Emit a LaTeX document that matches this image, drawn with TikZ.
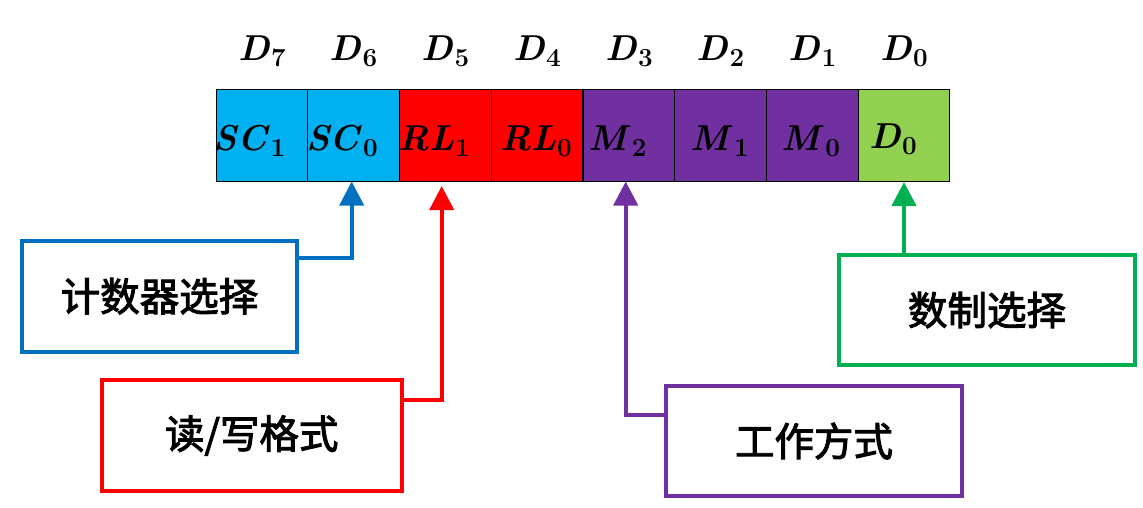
\documentclass[tikz,border=0pt]{standalone}
\usepackage{fontspec}
\usetikzlibrary{arrows.meta}
\newfontfamily\cjk[FakeBold=2.5]{Noto Sans CJK SC}
\newcommand\bv[2]{\textbf{\textit{#1}}\kern1pt\raisebox{-6.5pt}{\fontsize{26}{28}\selectfont\bfseries #2}}
\definecolor{xcyan}{HTML}{00B0F0}
\definecolor{xred}{HTML}{FF0000}
\definecolor{xpurple}{HTML}{7030A0}
\definecolor{xlgreen}{HTML}{92D050}
\definecolor{xblue}{HTML}{0070C0}
\definecolor{xgreen}{HTML}{00B050}
\begin{document}
\begin{tikzpicture}[x=1pt,y=-1pt,
  cell/.style={draw=black,line width=1pt,minimum width=91.75pt,minimum height=92pt,inner sep=0pt,anchor=center},
  bit/.style={font=\fontsize{36}{40}\selectfont,inner sep=0pt,anchor=base},
  lbl/.style={line width=4pt,fill=white,inner sep=0pt,anchor=center,font=\cjk\fontsize{39.5}{44}\selectfont},
  conn/.style={line width=4pt},
  tipx/.style={-{Triangle[width=24pt,length=24pt]}}]
\useasboundingbox (0,0) rectangle (1143,507);
% register cells
\node[cell,fill=xcyan]   (c7) at (261.9,135) {};
\node[cell,fill=xcyan]   (c6) at (353.6,135) {};
\node[cell,fill=xred]    (c5) at (445.4,135) {};
\node[cell,fill=xred]    (c4) at (537.1,135) {};
\node[cell,fill=xpurple] (c3) at (628.9,135) {};
\node[cell,fill=xpurple] (c2) at (720.6,135) {};
\node[cell,fill=xpurple] (c1) at (812.4,135) {};
\node[cell,fill=xlgreen] (c0) at (904.1,135) {};
% bit labels
\node[bit] (d7) at (261.9,60) {\bv{D}{7}};
\node[bit] (d6) at (353.6,60) {\bv{D}{6}};
\node[bit] (d5) at (445.4,60) {\bv{D}{5}};
\node[bit] (d4) at (537.1,60) {\bv{D}{4}};
\node[bit] (d3) at (628.9,60) {\bv{D}{3}};
\node[bit] (d2) at (720.6,60) {\bv{D}{2}};
\node[bit] (d1) at (812.4,60) {\bv{D}{1}};
\node[bit] (d0) at (904.1,60) {\bv{D}{0}};
% cell contents
\node[bit] (t7) at (249.5,150) {\bv{SC}{1}};
\node[bit] (t6) at (342,150) {\bv{SC}{0}};
\node[bit] (t5) at (434,150) {\bv{RL}{1}};
\node[bit] (t4) at (536,150) {\bv{RL}{0}};
\node[bit] (t3) at (617.5,150) {\bv{M}{2}};
\node[bit] (t2) at (719.7,150) {\bv{M}{1}};
\node[bit] (t1) at (811,150) {\bv{M}{0}};
\node[bit] (t0) at (893,148) {\bv{D}{0}};
% label boxes
\node[lbl,draw=xblue,minimum width=274.4pt,minimum height=111pt] (bbox) at (159.5,296.2) {计数器选择};
\node[lbl,draw=xred,minimum width=300pt,minimum height=111pt] (rbox) at (251.7,435.5) {读/写格式};
\node[lbl,draw=xpurple,minimum width=296.6pt,minimum height=110pt] (pbox) at (814,441) {工作方式};
\node[lbl,draw=xgreen,minimum width=296pt,minimum height=110pt] (gbox) at (987,310) {数制选择};
% connectors
\coordinate (b1) at (351.7,258.3);
\coordinate (r1) at (441.7,400);
\coordinate (r2) at (441.7,186);
\coordinate (p1) at (625.7,415);
\coordinate (g1) at (904,182);
\draw[conn,xblue,tipx] (bbox.east |- b1) -- (b1) -- (b1 |- c6.south);
\draw[conn,xred,tipx] (rbox.east |- r1) -- (r1) -- (r2);
\draw[conn,xpurple,tipx] (pbox.west |- p1) -- (p1) -- (p1 |- c3.south);
\draw[conn,xgreen,tipx] (gbox.north -| g1) -- (g1);
\end{tikzpicture}
\end{document}
